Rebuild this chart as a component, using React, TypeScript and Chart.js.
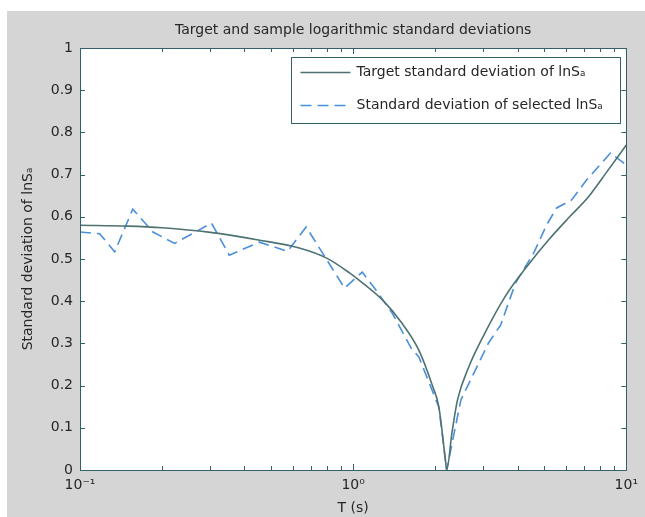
import React, { useEffect, useRef } from "react";
import { Chart, registerables } from "chart.js";

Chart.register(...registerables);

// ---- data ----
const targetPeriods = [0.1, 0.15, 0.2, 0.3, 0.45, 0.635, 0.8, 0.97, 1.05, 1.28, 1.5, 1.74, 1.95, 2.06, 2.18, 2.2, 2.3, 2.41, 2.65, 3.0, 3.61, 4.3, 5.19, 6.2, 7.26, 8.5, 10];
const targetStd = [0.58, 0.578, 0.574, 0.563, 0.545, 0.526, 0.502, 0.467, 0.45, 0.403, 0.35, 0.284, 0.2, 0.149, 0.02, 0.0, 0.088, 0.166, 0.244, 0.318, 0.412, 0.48, 0.545, 0.6, 0.647, 0.707, 0.77];

const samplePeriods = [0.1, 0.118, 0.134, 0.156, 0.185, 0.222, 0.303, 0.352, 0.454, 0.575, 0.673, 0.93, 1.08, 1.21, 1.39, 1.63, 1.74, 2.06, 2.2, 2.48, 3.13, 3.47, 3.93, 4.58, 5.11, 5.56, 6.31, 7.15, 8.75, 10];
const sampleStd = [0.564, 0.56, 0.517, 0.618, 0.564, 0.537, 0.585, 0.509, 0.54, 0.518, 0.576, 0.431, 0.469, 0.427, 0.372, 0.289, 0.268, 0.149, 0.0, 0.166, 0.301, 0.344, 0.443, 0.514, 0.581, 0.621, 0.64, 0.687, 0.751, 0.723];

const yTicks = [0, 0.1, 0.2, 0.3, 0.4, 0.5, 0.6, 0.7, 0.8, 0.9, 1];
const xMajorTicks = [0.1, 1, 10];
const xMajorLabels = ["10\u207B\u00B9", "10\u2070", "10\u00B9"];
const xMinorTicks = [0.2, 0.3, 0.4, 0.5, 0.6, 0.7, 0.8, 0.9, 2, 3, 4, 5, 6, 7, 8, 9];

const chartTitle = "Target and sample logarithmic standard deviations";
const xTitle = "T (s)";
const yTitle = "Standard deviation of lnS\u2090";
const seriesLabels = ["Target standard deviation of lnS\u2090", "Standard deviation of selected lnS\u2090"];

const FONT = "'DejaVu Sans', 'Liberation Sans', Arial, sans-serif";
const TEXT = "#262626";
const AXIS = "#34606a";
const FIG_BG = "#d5d5d5";

const figurePlugin = {
  id: "matlabFigure",
  beforeDraw(chart: any) {
    const { ctx, width, height, chartArea } = chart;
    ctx.save();
    ctx.fillStyle = "#ffffff";
    ctx.fillRect(0, 0, width, height);
    ctx.fillStyle = FIG_BG;
    ctx.fillRect(7, 11, width - 7, height - 11);
    ctx.fillStyle = "#ffffff";
    ctx.fillRect(chartArea.left, chartArea.top, chartArea.right - chartArea.left, chartArea.bottom - chartArea.top);
    ctx.restore();
  },
  afterDraw(chart: any) {
    const { ctx, chartArea } = chart;
    const xs = chart.scales.x;
    const ys = chart.scales.y;
    const { left, right, top, bottom } = chartArea;
    ctx.save();
    ctx.strokeStyle = AXIS;
    ctx.lineWidth = 1;
    ctx.beginPath();
    const tick = (v: number, len: number) => {
      const px = Math.round(xs.getPixelForValue(v)) + 0.5;
      ctx.moveTo(px, bottom);
      ctx.lineTo(px, bottom - len);
      ctx.moveTo(px, top);
      ctx.lineTo(px, top + len);
    };
    xMajorTicks.forEach((v) => tick(v, 6));
    xMinorTicks.forEach((v) => tick(v, 4));
    yTicks.forEach((v) => {
      const py = Math.round(ys.getPixelForValue(v)) + 0.5;
      ctx.moveTo(left, py);
      ctx.lineTo(left + 5, py);
      ctx.moveTo(right, py);
      ctx.lineTo(right - 5, py);
    });
    ctx.stroke();
    ctx.strokeRect(Math.round(left) + 0.5, Math.round(top) + 0.5, Math.round(right - left), Math.round(bottom - top));

    // legend
    const bx = Math.round(right) - 335 + 0.5;
    const by = Math.round(top) + 9 + 0.5;
    const bw = 329;
    const bh = 66;
    ctx.fillStyle = "#ffffff";
    ctx.fillRect(bx, by, bw, bh);
    ctx.strokeStyle = AXIS;
    ctx.strokeRect(bx, by, bw, bh);
    chart.data.datasets.forEach((ds: any, i: number) => {
      const cy = by + 15 + i * 33;
      ctx.strokeStyle = ds.borderColor;
      ctx.lineWidth = ds.borderWidth;
      ctx.setLineDash(ds.borderDash || []);
      ctx.beginPath();
      ctx.moveTo(bx + 9, cy);
      ctx.lineTo(bx + 59, cy);
      ctx.stroke();
      ctx.setLineDash([]);
      ctx.fillStyle = TEXT;
      ctx.font = `14px ${FONT}`;
      ctx.textBaseline = "middle";
      ctx.textAlign = "left";
      ctx.fillText(ds.label, bx + 65, cy);
    });
    ctx.restore();
  },
};

export default function App() {
  const ref = useRef<HTMLCanvasElement | null>(null);
  useEffect(() => {
    document.body.style.margin = "0";
    if (!ref.current) return;
    const chart = new Chart(ref.current, {
      type: "line",
      data: {
        datasets: [
          {
            label: seriesLabels[0],
            data: targetPeriods.map((t, i) => ({ x: t, y: targetStd[i] })),
            borderColor: "#4e7272",
            borderWidth: 1.6,
            pointRadius: 0,
            fill: false,
            cubicInterpolationMode: "monotone",
          },
          {
            label: seriesLabels[1],
            data: samplePeriods.map((t, i) => ({ x: t, y: sampleStd[i] })),
            borderColor: "#4a8fdc",
            borderWidth: 1.6,
            borderDash: [11, 6],
            pointRadius: 0,
            fill: false,
            tension: 0,
          },
        ],
      },
      options: {
        animation: false,
        responsive: false,
        layout: { padding: { left: 0, right: 17, top: 0, bottom: 0 } },
        plugins: {
          legend: { display: false },
          tooltip: { enabled: false },
          title: {
            display: true,
            fullSize: false,
            text: chartTitle,
            color: TEXT,
            font: { family: FONT, size: 14, weight: "normal" },
            padding: { top: 21.6, bottom: 9.6 },
          },
        },
        scales: {
          x: {
            type: "logarithmic",
            min: 0.1,
            max: 10,
            grid: { display: false, drawTicks: false },
            border: { display: false },
            ticks: {
              autoSkip: false,
              maxRotation: 0,
              padding: 7,
              color: TEXT,
              font: { family: FONT, size: 14 },
              callback: (v: any) => {
                const idx = xMajorTicks.findIndex((m) => Math.abs(Math.log10(Number(v)) - Math.log10(m)) < 1e-6);
                return idx >= 0 ? xMajorLabels[idx] : "";
              },
            },
            title: {
              display: true,
              text: xTitle,
              color: TEXT,
              font: { family: FONT, size: 14 },
              padding: { top: 0, bottom: 0 },
            },
            afterFit: (s: any) => {
              s.height = 47;
            },
          },
          y: {
            min: 0,
            max: 1,
            grid: { display: false, drawTicks: false },
            border: { display: false },
            ticks: {
              stepSize: 0.1,
              padding: 7,
              color: TEXT,
              font: { family: FONT, size: 14 },
              callback: (v: any) => String(parseFloat(Number(v).toFixed(1))),
            },
            title: {
              display: true,
              text: yTitle,
              color: TEXT,
              font: { family: FONT, size: 14 },
              padding: { top: 20, bottom: 0 },
            },
            afterFit: (s: any) => {
              s.width = 80;
            },
          },
        },
      },
      plugins: [figurePlugin],
    } as any);
    return () => chart.destroy();
  }, []);
  return <canvas ref={ref} width={645} height={517} style={{ display: "block" }} />;
}
